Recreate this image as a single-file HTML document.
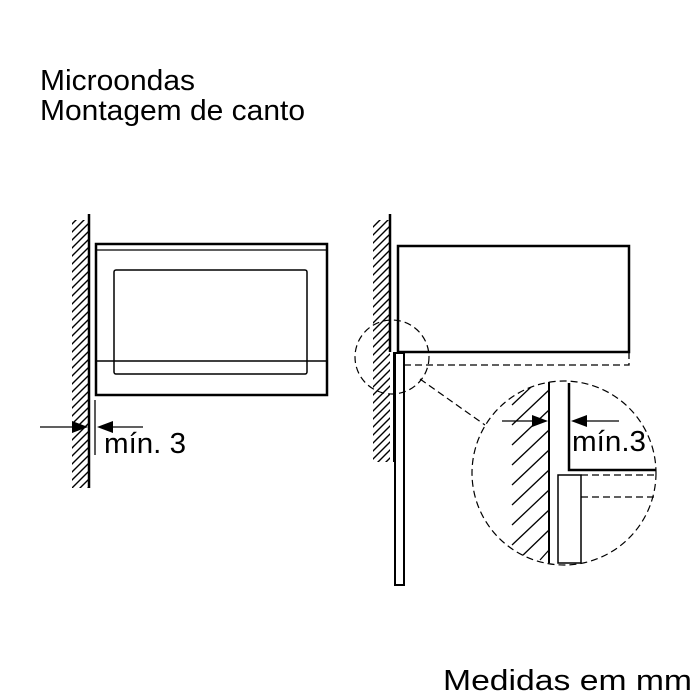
<!DOCTYPE html><html><head><style>body{margin:0;background:#fff}svg{display:block}text{font-family:"Liberation Sans",Arial,sans-serif;fill:#000}</style></head><body>
<svg width="700" height="700" viewBox="0 0 700 700" xmlns="http://www.w3.org/2000/svg">
<defs>
<pattern id="h" patternUnits="userSpaceOnUse" width="8" height="8"><path d="M-2,10 L10,-2 M-2,2 L2,-2 M6,10 L10,6" stroke="#000" stroke-width="1.4"/></pattern>
<clipPath id="c"><circle cx="564" cy="473" r="92"/></clipPath>
</defs>
<text x="40" y="90" font-size="29" textLength="155" lengthAdjust="spacingAndGlyphs">Microondas</text>
<text x="40" y="120" font-size="29" textLength="265" lengthAdjust="spacingAndGlyphs">Montagem de canto</text>
<text x="443" y="690" font-size="29" textLength="249" lengthAdjust="spacingAndGlyphs">Medidas em mm</text>
<!-- left figure -->
<rect x="72" y="220" width="17" height="268" fill="url(#h)"/>
<line x1="89" y1="214" x2="89" y2="488" stroke="#000" stroke-width="2.5"/>
<rect x="96" y="244" width="231" height="151" fill="none" stroke="#000" stroke-width="2.5"/>
<line x1="97" y1="250" x2="326" y2="250" stroke="#000" stroke-width="1.2"/>
<rect x="114" y="270" width="193" height="104" rx="2" fill="none" stroke="#000" stroke-width="1.5"/>
<line x1="97" y1="361" x2="326" y2="361" stroke="#000" stroke-width="1.5"/>
<line x1="95" y1="400" x2="95" y2="455" stroke="#000" stroke-width="1.3"/>
<line x1="40" y1="427" x2="75" y2="427" stroke="#000" stroke-width="1.3"/>
<polygon points="88,427 72,421 72,433" fill="#000"/>
<line x1="110" y1="427" x2="143" y2="427" stroke="#000" stroke-width="1.3"/>
<polygon points="97,427 113,421 113,433" fill="#000"/>
<text x="104" y="453" font-size="29" textLength="82" lengthAdjust="spacingAndGlyphs">mín. 3</text>
<!-- right figure -->
<rect x="373" y="220" width="17" height="242" fill="url(#h)"/>
<line x1="390" y1="214" x2="390" y2="352" stroke="#000" stroke-width="2.5"/>
<rect x="393" y="352" width="3" height="110" fill="#000"/>
<rect x="398" y="246" width="231" height="106" fill="none" stroke="#000" stroke-width="2.5"/>
<rect x="398" y="352" width="231" height="13" fill="none" stroke="#000" stroke-width="1.3" stroke-dasharray="7,4"/>
<rect x="395" y="353" width="9" height="232" fill="#fff" stroke="#000" stroke-width="2"/>
<circle cx="392" cy="357" r="37" fill="none" stroke="#000" stroke-width="1.2" stroke-dasharray="7,4"/>
<line x1="420" y1="379" x2="485" y2="425" stroke="#000" stroke-width="1.2" stroke-dasharray="7,4"/>
<!-- detail -->
<g clip-path="url(#c)">
<rect x="512" y="380" width="37" height="175" fill="#fff"/>
<g stroke="#000" stroke-width="1.3">
<line x1="512" y1="405" x2="549" y2="370"/><line x1="512" y1="425" x2="549" y2="390"/><line x1="512" y1="445" x2="549" y2="410"/>
<line x1="512" y1="465" x2="549" y2="430"/><line x1="512" y1="485" x2="549" y2="450"/><line x1="512" y1="505" x2="549" y2="470"/>
<line x1="512" y1="525" x2="549" y2="490"/><line x1="512" y1="545" x2="549" y2="510"/><line x1="520" y1="558" x2="549" y2="530"/><line x1="540" y1="560" x2="549" y2="550"/>
</g>
</g>
<circle cx="564" cy="473" r="92" fill="none" stroke="#000" stroke-width="1.2" stroke-dasharray="7,4"/>
<line x1="549" y1="382" x2="549" y2="563" stroke="#000" stroke-width="2"/>
<polyline points="569,383 569,470 656,470" fill="none" stroke="#000" stroke-width="2.5"/>
<rect x="558" y="475" width="23" height="88" fill="none" stroke="#000" stroke-width="1.5"/>
<line x1="581" y1="475" x2="655" y2="475" stroke="#000" stroke-width="1.3" stroke-dasharray="7,4"/>
<line x1="581" y1="497" x2="654" y2="497" stroke="#000" stroke-width="1.3" stroke-dasharray="7,4"/>
<line x1="502" y1="421" x2="535" y2="421" stroke="#000" stroke-width="1.3"/>
<polygon points="548,421 532,415 532,427" fill="#000"/>
<line x1="585" y1="421" x2="619" y2="421" stroke="#000" stroke-width="1.3"/>
<polygon points="571,421 587,415 587,427" fill="#000"/>
<text x="572" y="451" font-size="29" textLength="74" lengthAdjust="spacingAndGlyphs">mín.3</text>
</svg>
</body></html>
